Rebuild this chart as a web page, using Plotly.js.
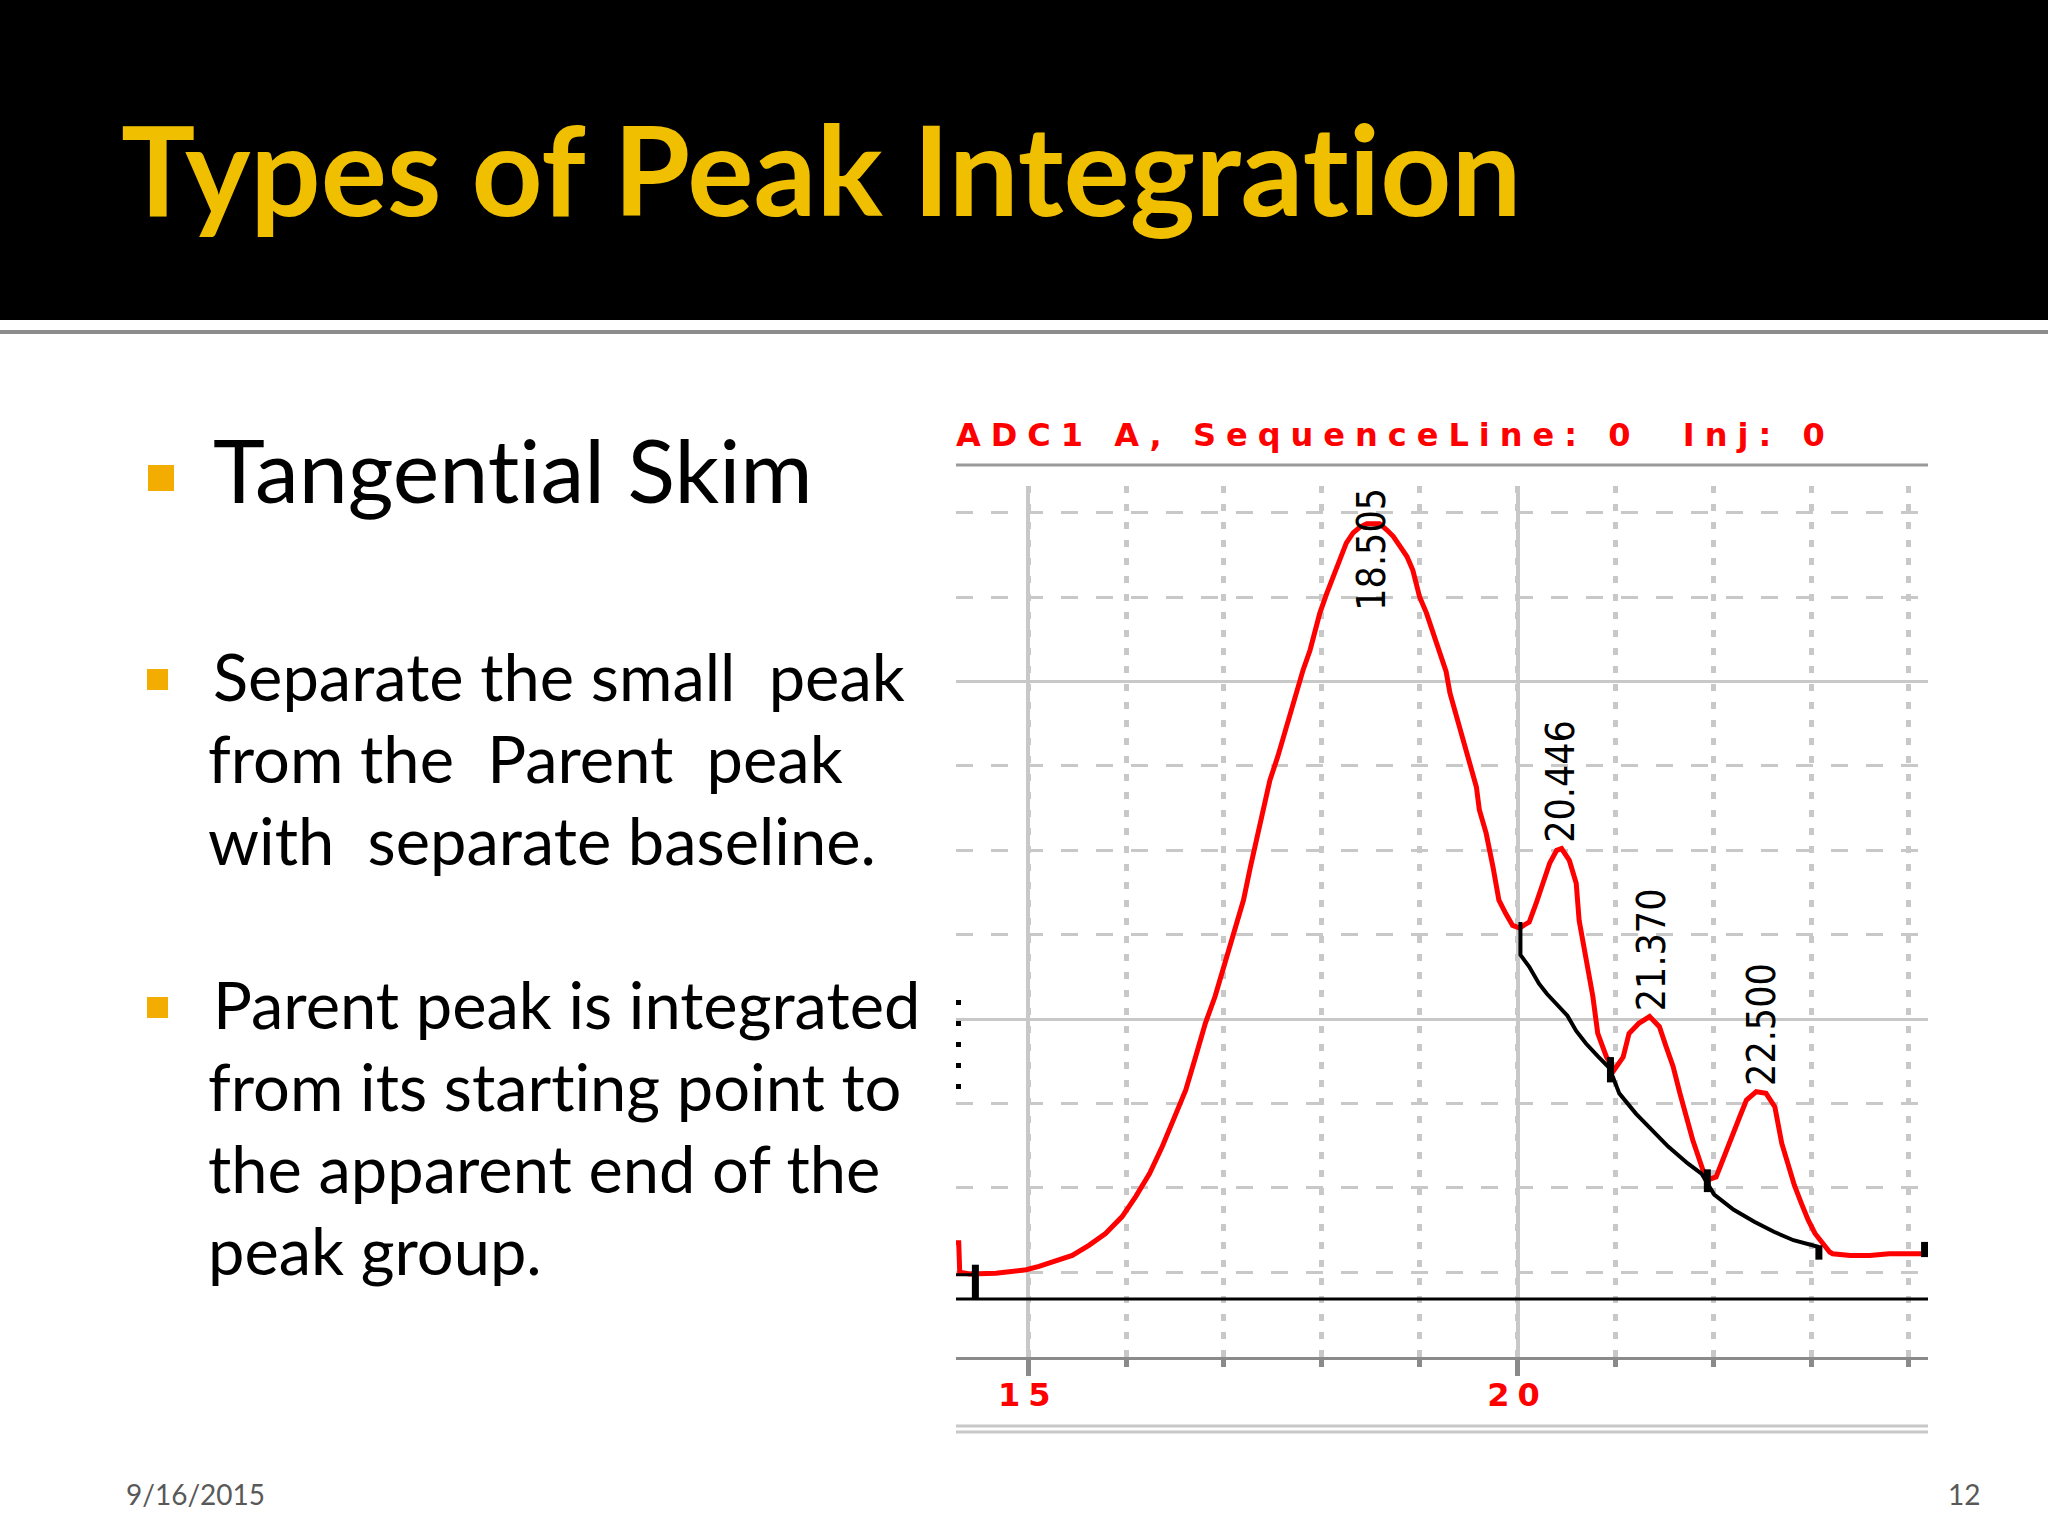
<!DOCTYPE html>
<html>
<head>
<meta charset="utf-8">
<script src="https://cdn.plot.ly/plotly-3.0.1.min.js"></script>
<style>
html,body{margin:0;padding:0;background:#ffffff;}
#chart{width:2048px;height:1536px;}
#chart text{font-variant-ligatures:none;font-feature-settings:"liga" 0;}
</style>
</head>
<body>
<div id="chart"></div>
<script>
// ---------------- DATA ----------------
// Detector signal (red trace): retention time (min) and signal level (grid units)
const redTime = [14.262, 14.29, 14.30, 14.40, 14.67, 14.98, 15.11, 15.28, 15.45, 15.62, 15.79, 15.96, 16.10, 16.24, 16.37, 16.51, 16.61, 16.71, 16.81, 16.91, 17.02, 17.06, 17.13, 17.20, 17.27, 17.33, 17.42, 17.47, 17.55, 17.62, 17.69, 17.74, 17.81, 17.88, 17.93, 17.98, 18.05, 18.12, 18.18, 18.25, 18.32, 18.39, 18.46, 18.59, 18.66, 18.73, 18.80, 18.87, 18.93, 19.00, 19.07, 19.14, 19.21, 19.27, 19.31, 19.38, 19.44, 19.51, 19.58, 19.61, 19.68, 19.75, 19.81, 19.88, 19.95, 20.02, 20.12, 20.19, 20.26, 20.33, 20.40, 20.45, 20.53, 20.60, 20.63, 20.70, 20.77, 20.82, 20.91, 20.99, 21.08, 21.14, 21.24, 21.35, 21.45, 21.52, 21.59, 21.66, 21.73, 21.79, 21.86, 21.93, 22.03, 22.13, 22.20, 22.27, 22.34, 22.44, 22.54, 22.63, 22.70, 22.76, 22.83, 22.90, 22.97, 23.04, 23.12, 23.19, 23.22, 23.40, 23.60, 23.80, 24.195];
const redSignal = [1.35, 1.35, 1.00, 0.98, 0.99, 1.03, 1.07, 1.13, 1.20, 1.32, 1.46, 1.66, 1.90, 2.17, 2.49, 2.88, 3.16, 3.55, 3.95, 4.27, 4.70, 4.86, 5.13, 5.41, 5.80, 6.10, 6.52, 6.83, 7.11, 7.39, 7.66, 7.90, 8.14, 8.37, 8.61, 8.81, 9.04, 9.24, 9.44, 9.64, 9.76, 9.83, 9.87, 9.87, 9.80, 9.72, 9.60, 9.48, 9.32, 9.00, 8.81, 8.57, 8.35, 8.12, 7.86, 7.58, 7.31, 7.03, 6.75, 6.48, 6.20, 5.80, 5.41, 5.25, 5.11, 5.08, 5.15, 5.37, 5.61, 5.85, 6.00, 6.02, 5.88, 5.61, 5.17, 4.74, 4.27, 3.83, 3.55, 3.40, 3.55, 3.83, 3.95, 4.03, 3.91, 3.67, 3.44, 3.12, 2.80, 2.57, 2.33, 2.09, 2.13, 2.41, 2.61, 2.84, 3.04, 3.14, 3.12, 2.96, 2.53, 2.29, 2.03, 1.82, 1.62, 1.46, 1.34, 1.24, 1.22, 1.20, 1.20, 1.22, 1.22];

// Tangential skim baseline (black curve)
const skimTime  = [20.03, 20.03, 20.12, 20.22, 20.30, 20.41, 20.51, 20.60, 20.70, 20.82, 20.94, 21.04, 21.21, 21.37, 21.54, 21.74, 21.88, 22.01, 22.21, 22.42, 22.62, 22.82, 23.05, 23.08];
const skimLevel = [5.15, 4.76, 4.62, 4.42, 4.30, 4.17, 4.04, 3.86, 3.71, 3.56, 3.42, 3.12, 2.88, 2.69, 2.49, 2.29, 2.17, 1.92, 1.74, 1.60, 1.48, 1.38, 1.30, 1.30];

// Parent baseline start segment
const startBaseTime  = [14.262, 14.46];
const startBaseLevel = [0.97, 0.97];

// Integration event marks (vertical ticks)
const markTime = [14.46, 20.95, 21.94, 23.08, 24.16];
const markLow  = [0.69, 3.25, 1.95, 1.15, 1.18];
const markHigh = [1.09, 3.55, 2.22, 1.32, 1.36];

// Signal zero level
const zeroLevel = 0.684;

// Peaks
const peakTimes   = [18.505, 20.446, 21.370, 22.500];
const peakHeights = [9.87, 6.02, 4.03, 3.14];

// Axis
const timeRange  = [14.262, 24.195];
const levelRange = [0, 10.316];
const tickVals   = [15, 20];
const tickLabels = ['15', '20'];

// Slide text
const slideTitle = 'Types of Peak Integration';
const chartTitle = 'ADC1 A, SequenceLine: 0\u00a0\u00a0Inj: 0';
const bullet1 = ['Tangential Skim'];
const bullet2 = ['Separate the small\u00a0 peak', 'from the\u00a0 Parent\u00a0 peak', 'with\u00a0 separate baseline.'];
const bullet3 = ['Parent peak is integrated', 'from its starting point to', 'the apparent end of the', 'peak group.'];
const footerDate = '9/16/2015';
const footerPage = '12';

// ---------------- LAYOUT HELPERS ----------------
const W = 2048, H = 1536;
const PX = v => v / W;
const PY = v => 1 - v / H;

const markX = [], markY = [];
markTime.forEach((t, i) => { markX.push(t, t, null); markY.push(markLow[i], markHigh[i], null); });

const traces = [
  {x: timeRange, y: [zeroLevel, zeroLevel], mode: 'lines', line: {color: '#000000', width: 3}, hoverinfo: 'skip', showlegend: false},
  {x: redTime, y: redSignal, mode: 'lines', line: {color: '#ff0000', width: 5}, hoverinfo: 'skip', showlegend: false},
  {x: skimTime, y: skimLevel, mode: 'lines', line: {color: '#000000', width: 4}, hoverinfo: 'skip', showlegend: false},
  {x: startBaseTime, y: startBaseLevel, mode: 'lines', line: {color: '#000000', width: 3}, hoverinfo: 'skip', showlegend: false},
  {x: markX, y: markY, mode: 'lines', line: {color: '#000000', width: 7}, hoverinfo: 'skip', showlegend: false, connectgaps: false}
];

const annotations = [];
function textAnn(text, xpx, ypx, size, opts) {
  annotations.push(Object.assign({
    xref: 'paper', yref: 'paper', x: PX(xpx), y: PY(ypx),
    xanchor: 'left', yanchor: 'middle', align: 'left', showarrow: false,
    text: text,
    font: {family: 'Lato, "Open Sans", sans-serif', size: size, color: '#000000'}
  }, opts || {}));
}

// Slide title
textAnn(slideTitle, 119, 168, 124, {font: {family: 'Lato, "Open Sans", sans-serif', size: 124, color: '#f0c000', weight: 'bold'}});

// Bullets text
textAnn(bullet1[0], 211, 469, 88);
const bodySize = 65, bodyGap = 82;
bullet2.forEach((t, i) => textAnn(t, i === 0 ? 211 : 206, 676 + i * bodyGap, bodySize));
bullet3.forEach((t, i) => textAnn(t, i === 0 ? 211 : 206, 1004 + i * bodyGap, bodySize));

// Footer
textAnn(footerDate, 124, 1494, 28, {font: {family: 'Lato, sans-serif', size: 28, color: '#595959'}});
textAnn(footerPage, 1982, 1494, 28, {xanchor: 'right', align: 'right', font: {family: 'Lato, sans-serif', size: 28, color: '#595959'}});

// Chart title
textAnn('<span style="letter-spacing:10px">' + chartTitle + '</span>', 954, 435, 32,
  {font: {family: '"DejaVu Sans", sans-serif', size: 32, color: '#ff0000', weight: 'bold'}});

// Peak labels (rotated)
const labelLen = 1.32; // label length in level units
peakTimes.forEach((t, i) => {
  const fitsAbove = peakHeights[i] + 0.05 + labelLen < levelRange[1];
  annotations.push({
    xref: 'x', yref: 'y', x: t,
    y: fitsAbove ? peakHeights[i] + 0.04 : levelRange[1],
    xanchor: 'center', yanchor: fitsAbove ? 'bottom' : 'top',
    textangle: -90, showarrow: false, text: t.toFixed(3),
    font: {family: '"Liberation Sans Narrow", "DejaVu Sans Condensed", "Arial Narrow", sans-serif', size: 39, color: '#000000', stretch: 'condensed'}
  });
});

const shapes = [
  // header band
  {type: 'rect', xref: 'paper', yref: 'paper', x0: 0, x1: 1, y0: PY(320), y1: 1, fillcolor: '#000000', line: {width: 0}, layer: 'below'},
  {type: 'line', xref: 'paper', yref: 'paper', x0: 0, x1: 1, y0: PY(332), y1: PY(332), line: {color: '#8c8c8c', width: 4}},
  // chart title rule
  {type: 'line', xref: 'paper', yref: 'paper', x0: PX(956), x1: PX(1928), y0: PY(465), y1: PY(465), line: {color: '#9a9a9a', width: 3}},
  // bottom double rule
  {type: 'line', xref: 'paper', yref: 'paper', x0: PX(956), x1: PX(1928), y0: PY(1426), y1: PY(1426), line: {color: '#c8c8c8', width: 3}},
  {type: 'line', xref: 'paper', yref: 'paper', x0: PX(956), x1: PX(1928), y0: PY(1432), y1: PY(1432), line: {color: '#c8c8c8', width: 3}},
  // clipped y-axis remnants at left edge
  {type: 'line', xref: 'paper', yref: 'paper', x0: PX(958.5), x1: PX(958.5), y0: PY(1000), y1: PY(1104), line: {color: '#000000', width: 5, dash: '5px,16px'}},
  // bullets
  {type: 'rect', xref: 'paper', yref: 'paper', x0: PX(148), x1: PX(174), y0: PY(491), y1: PY(465), fillcolor: '#f2ad00', line: {width: 0}},
  {type: 'rect', xref: 'paper', yref: 'paper', x0: PX(147), x1: PX(168), y0: PY(690), y1: PY(669), fillcolor: '#f2ad00', line: {width: 0}},
  {type: 'rect', xref: 'paper', yref: 'paper', x0: PX(147), x1: PX(168), y0: PY(1018), y1: PY(997), fillcolor: '#f2ad00', line: {width: 0}}
];

const layout = {
  width: W, height: H,
  margin: {l: 0, r: 0, t: 0, b: 0, pad: 0},
  paper_bgcolor: '#ffffff', plot_bgcolor: '#ffffff',
  showlegend: false,
  xaxis: {
    domain: [PX(956), PX(1928)], range: timeRange, fixedrange: true,
    tickmode: 'array', tickvals: tickVals,
    ticktext: tickLabels.map(t => '<span style="letter-spacing:8px">' + t + '</span>'),
    showgrid: true, gridcolor: '#c8c8c8', gridwidth: 4,
    ticks: 'outside', ticklen: 16, tickwidth: 5, tickcolor: '#8a8a8a',
    ticklabelstandoff: -8,
    showline: true, linecolor: '#8a8a8a', linewidth: 3, zeroline: false,
    tickfont: {family: '"DejaVu Sans", sans-serif', size: 32, color: '#ff0000', weight: 'bold'},
    minor: {tickmode: 'linear', tick0: 0, dtick: 1, showgrid: true, gridcolor: '#c8c8c8', gridwidth: 5, griddash: '7px,11px',
            ticks: 'outside', ticklen: 7, tickwidth: 5, tickcolor: '#8a8a8a'}
  },
  yaxis: {
    domain: [PY(1356.7), PY(486)], range: levelRange, fixedrange: true,
    tickmode: 'linear', tick0: 0, dtick: 4,
    showgrid: true, gridcolor: '#c8c8c8', gridwidth: 3,
    showticklabels: false, ticks: '', showline: false, zeroline: false,
    minor: {tickmode: 'linear', tick0: 0, dtick: 1, showgrid: true, gridcolor: '#c8c8c8', gridwidth: 3, griddash: '17px,18px', ticks: ''}
  },
  annotations: annotations,
  shapes: shapes
};

Plotly.newPlot('chart', traces, layout, {staticPlot: true, displayModeBar: false});
</script>
</body>
</html>
